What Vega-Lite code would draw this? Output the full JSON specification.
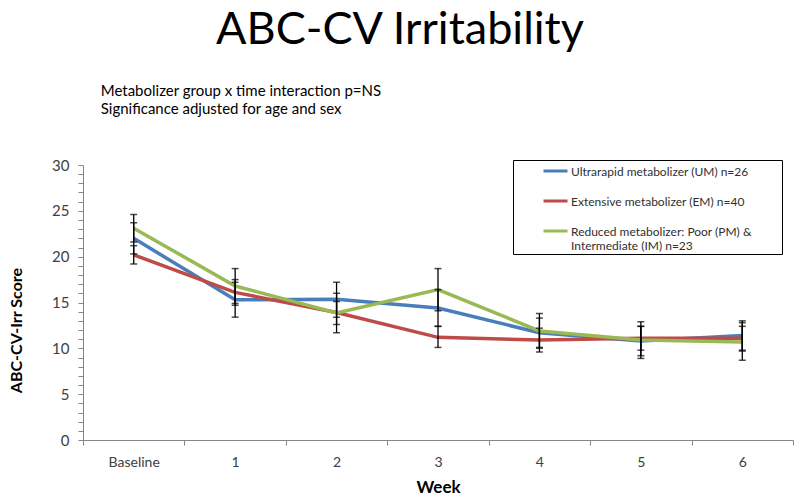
{
  "$schema": "https://vega.github.io/schema/vega-lite/v6.json",
  "width": 710,
  "height": 275,
  "autosize": {"type": "none"},
  "padding": {"left": 83, "top": 165, "right": 7, "bottom": 60},
  "background": "white",
  "config": {
    "view": {"stroke": null},
    "font": "Lato",
    "axis": {"labelFont": "Lato", "titleFont": "Lato", "domainColor": "#868686", "tickColor": "#868686", "labelColor": "#404040", "titleColor": "#000000", "grid": false},
    "axisY": {
      "titleFontSize": 16, "titleFontWeight": "bold", "titlePadding": 27, "titleY": 165,
      "labelFontSize": 15, "labelPadding": 9, "labelOverlap": false, "labelBound": false, "labelFlush": false,
      "tickSize": 5
    }
  },
  "title": {
    "text": "ABC-CV Irritability",
    "font": "Lato",
    "fontSize": 45,
    "fontWeight": "normal",
    "color": "#000000",
    "anchor": "middle",
    "frame": "group",
    "dx": -38,
    "offset": 31
  },
  "data": {
    "values": [
      {"week": "Baseline", "group": "Ultrarapid metabolizer (UM) n=26", "mean": 22.0, "lo": 20.3, "hi": 23.7},
      {"week": "1", "group": "Ultrarapid metabolizer (UM) n=26", "mean": 15.3, "lo": 13.4, "hi": 17.2},
      {"week": "2", "group": "Ultrarapid metabolizer (UM) n=26", "mean": 15.35, "lo": 13.4, "hi": 17.2},
      {"week": "3", "group": "Ultrarapid metabolizer (UM) n=26", "mean": 14.4, "lo": 12.4, "hi": 16.4},
      {"week": "4", "group": "Ultrarapid metabolizer (UM) n=26", "mean": 11.7, "lo": 10.1, "hi": 13.3},
      {"week": "5", "group": "Ultrarapid metabolizer (UM) n=26", "mean": 10.8, "lo": 9.2, "hi": 12.4},
      {"week": "6", "group": "Ultrarapid metabolizer (UM) n=26", "mean": 11.4, "lo": 9.8, "hi": 13.0},
      {"week": "Baseline", "group": "Extensive metabolizer (EM) n=40", "mean": 20.2, "lo": 19.2, "hi": 21.2},
      {"week": "1", "group": "Extensive metabolizer (EM) n=40", "mean": 16.1, "lo": 14.7, "hi": 17.5},
      {"week": "2", "group": "Extensive metabolizer (EM) n=40", "mean": 13.9, "lo": 11.7, "hi": 16.0},
      {"week": "3", "group": "Extensive metabolizer (EM) n=40", "mean": 11.2, "lo": 10.1, "hi": 12.4},
      {"week": "4", "group": "Extensive metabolizer (EM) n=40", "mean": 10.9, "lo": 9.6, "hi": 12.2},
      {"week": "5", "group": "Extensive metabolizer (EM) n=40", "mean": 11.1, "lo": 9.8, "hi": 12.4},
      {"week": "6", "group": "Extensive metabolizer (EM) n=40", "mean": 11.1, "lo": 9.7, "hi": 12.4},
      {"week": "Baseline", "group": "Reduced metabolizer: Poor (PM) & Intermediate (IM) n=23", "mean": 23.1, "lo": 21.6, "hi": 24.6},
      {"week": "1", "group": "Reduced metabolizer: Poor (PM) & Intermediate (IM) n=23", "mean": 16.8, "lo": 14.9, "hi": 18.7},
      {"week": "2", "group": "Reduced metabolizer: Poor (PM) & Intermediate (IM) n=23", "mean": 13.85, "lo": 12.6, "hi": 15.1},
      {"week": "3", "group": "Reduced metabolizer: Poor (PM) & Intermediate (IM) n=23", "mean": 16.4, "lo": 14.1, "hi": 18.7},
      {"week": "4", "group": "Reduced metabolizer: Poor (PM) & Intermediate (IM) n=23", "mean": 11.9, "lo": 10.0, "hi": 13.8},
      {"week": "5", "group": "Reduced metabolizer: Poor (PM) & Intermediate (IM) n=23", "mean": 10.9, "lo": 8.9, "hi": 12.9},
      {"week": "6", "group": "Reduced metabolizer: Poor (PM) & Intermediate (IM) n=23", "mean": 10.7, "lo": 8.7, "hi": 12.8}
    ]
  },
  "encoding": {
    "x": {
      "field": "week", "type": "ordinal",
      "sort": ["Baseline", "1", "2", "3", "4", "5", "6"],
      "scale": {"type": "band", "paddingInner": 0, "paddingOuter": 0},
      "axis": {"title": "Week", "titleFontSize": 17, "titleFontWeight": "bold", "titlePadding": 10, "labelFontSize": 14, "labelAngle": 0, "labelPadding": 10, "tickBand": "extent", "tickSize": 5, "domainWidth": 1}
    }
  },
  "layer": [
    {
      "mark": {"type": "line", "strokeWidth": 3.5},
      "encoding": {
        "y": {
          "field": "mean", "type": "quantitative",
          "scale": {"domain": [0, 30], "nice": false, "zero": true},
          "axis": {"title": "ABC-CV-Irr Score", "values": [0,1,2,3,4,5,6,7,8,9,10,11,12,13,14,15,16,17,18,19,20,21,22,23,24,25,26,27,28,29,30], "labelExpr": "datum.value % 5 == 0 ? datum.label : ''"}
        },
        "color": {
          "field": "group", "type": "nominal",
          "scale": {
            "domain": ["Ultrarapid metabolizer (UM) n=26", "Extensive metabolizer (EM) n=40", "Reduced metabolizer: Poor (PM) & Intermediate (IM) n=23"],
            "range": ["#4A7EBB", "#BE4B48", "#98B954"]
          },
          "legend": {
            "title": ".",
            "titleOrient": "right",
            "titleOpacity": 0,
            "titleFontSize": 8,
            "titlePadding": 26,
            "orient": "none",
            "legendX": 430,
            "legendY": -5,
            "direction": "vertical",
            "strokeColor": "#000000",
            "fillColor": "white",
            "padding": 2,
            "rowPadding": 14,
            "symbolType": "M-1,-0.375H1",
            "symbolSize": 576,
            "symbolStrokeWidth": 3,
            "symbolOffset": 27,
            "labelFont": "Lato",
            "labelFontSize": 12,
            "labelBaseline": "alphabetic",
            "labelColor": "#303030",
            "labelLimit": 400,
            "labelOffset": 2,
            "labelExpr": "indexof(datum.label, 'Reduced') == 0 ? ['Reduced metabolizer: Poor (PM) &', 'Intermediate (IM) n=23'] : datum.label"
          }
        }
      }
    },
    {
      "mark": {"type": "rule", "color": "#000000", "strokeWidth": 1.3},
      "encoding": {
        "y": {"field": "lo", "type": "quantitative", "axis": {"title": "ABC-CV-Irr Score", "values": [0,1,2,3,4,5,6,7,8,9,10,11,12,13,14,15,16,17,18,19,20,21,22,23,24,25,26,27,28,29,30], "labelExpr": "datum.value % 5 == 0 ? datum.label : ''"}},
        "y2": {"field": "hi"},
        "detail": {"field": "group"}
      }
    },
    {
      "mark": {"type": "tick", "color": "#000000", "size": 7, "thickness": 1.5},
      "encoding": {
        "y": {"field": "lo", "type": "quantitative", "axis": {"title": "ABC-CV-Irr Score", "values": [0,1,2,3,4,5,6,7,8,9,10,11,12,13,14,15,16,17,18,19,20,21,22,23,24,25,26,27,28,29,30], "labelExpr": "datum.value % 5 == 0 ? datum.label : ''"}}
      }
    },
    {
      "mark": {"type": "tick", "color": "#000000", "size": 7, "thickness": 1.5},
      "encoding": {
        "y": {"field": "hi", "type": "quantitative", "axis": {"title": "ABC-CV-Irr Score", "values": [0,1,2,3,4,5,6,7,8,9,10,11,12,13,14,15,16,17,18,19,20,21,22,23,24,25,26,27,28,29,30], "labelExpr": "datum.value % 5 == 0 ? datum.label : ''"}}
      }
    },
    {
      "data": {"values": [{}]},
      "mark": {"type": "text", "align": "left", "baseline": "middle", "fontSize": 15, "font": "Lato", "color": "#000000", "lineHeight": 18, "dx": -33,
        "text": [" Metabolizer group x time interaction p=NS", "Significance adjusted for age and sex"]},
      "encoding": {
        "x": {"datum": "Baseline"},
        "y": {"datum": 38.1, "type": "quantitative", "axis": {"title": "ABC-CV-Irr Score", "values": [0,1,2,3,4,5,6,7,8,9,10,11,12,13,14,15,16,17,18,19,20,21,22,23,24,25,26,27,28,29,30], "labelExpr": "datum.value % 5 == 0 ? datum.label : ''"}}
      }
    }
  ]
}
